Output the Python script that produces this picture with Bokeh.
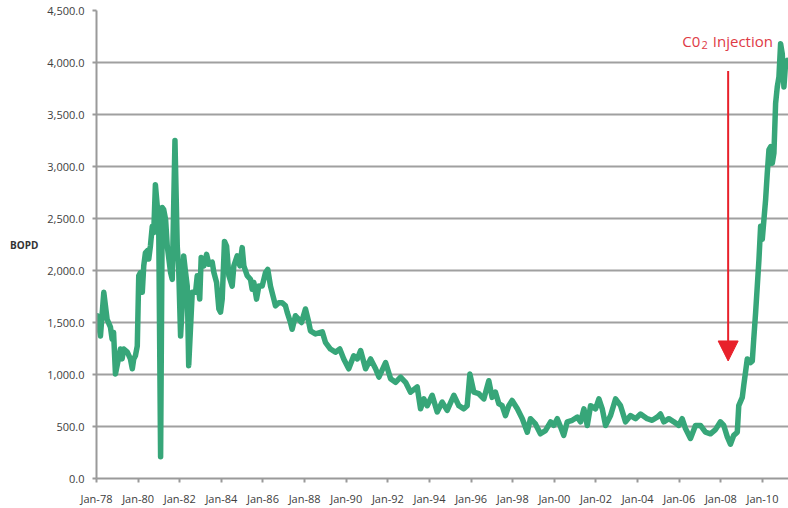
from bokeh.plotting import figure
from bokeh.models import (Range1d, FixedTicker, NumeralTickFormatter, Label,
                          Arrow, NormalHead, ColumnDataSource)
from bokeh.models.axes import Axis
from bokeh.embed import file_html
from bokeh.resources import INLINE

# ---- data ----
years = [
    1978.03, 1978.19, 1978.35, 1978.51, 1978.67, 1978.75, 1978.82, 1978.91, 1978.99,
    1979.15, 1979.23, 1979.31, 1979.48, 1979.63, 1979.72, 1979.79, 1979.87, 1979.96,
    1980.03, 1980.11, 1980.20, 1980.27, 1980.35, 1980.44, 1980.51, 1980.59, 1980.68,
    1980.75, 1980.83, 1980.92, 1980.99, 1981.08, 1981.16, 1981.23, 1981.32, 1981.40,
    1981.56, 1981.64, 1981.77, 1981.88, 1981.95, 1982.04, 1982.12, 1982.19, 1982.28,
    1982.36, 1982.43, 1982.60, 1982.76, 1982.84, 1982.96, 1983.03, 1983.16, 1983.29,
    1983.40, 1983.56, 1983.64, 1983.77, 1983.88, 1983.96, 1984.04, 1984.15, 1984.25,
    1984.36, 1984.52, 1984.60, 1984.76, 1984.89, 1985.00, 1985.08, 1985.24, 1985.40,
    1985.48, 1985.56, 1985.69, 1985.80, 1985.96, 1986.12, 1986.23, 1986.36, 1986.52,
    1986.60, 1986.76, 1986.92, 1987.08, 1987.16, 1987.32, 1987.40, 1987.56, 1987.72,
    1987.85, 1988.04, 1988.20, 1988.28, 1988.52, 1988.85, 1989.00, 1989.24, 1989.48,
    1989.69, 1989.88, 1990.12, 1990.36, 1990.53, 1990.69, 1990.93, 1991.17, 1991.41,
    1991.57, 1991.89, 1992.13, 1992.37, 1992.61, 1992.85, 1993.09, 1993.41, 1993.57,
    1993.73, 1993.89, 1994.13, 1994.37, 1994.61, 1994.85, 1995.17, 1995.41, 1995.65,
    1995.81, 1995.94, 1996.13, 1996.37, 1996.61, 1996.85, 1997.01, 1997.17, 1997.33,
    1997.49, 1997.65, 1997.81, 1997.97, 1998.22, 1998.46, 1998.70, 1998.85, 1999.09,
    1999.33, 1999.57, 1999.82, 1999.97, 2000.14, 2000.30, 2000.45, 2000.62, 2000.86,
    2001.10, 2001.26, 2001.42, 2001.58, 2001.74, 2001.98, 2002.14, 2002.30, 2002.46,
    2002.70, 2002.94, 2003.18, 2003.42, 2003.66, 2003.90, 2004.14, 2004.46, 2004.70,
    2004.94, 2005.10, 2005.26, 2005.50, 2005.74, 2005.98, 2006.14, 2006.30, 2006.54,
    2006.78, 2007.02, 2007.26, 2007.50, 2007.74, 2007.98, 2008.14, 2008.31, 2008.46,
    2008.62, 2008.79, 2008.86, 2009.03, 2009.10, 2009.27, 2009.43, 2009.51, 2009.58,
    2009.67, 2009.75, 2009.83, 2009.91, 2009.99, 2010.07, 2010.15, 2010.23, 2010.31,
    2010.39, 2010.47, 2010.55, 2010.63, 2010.71, 2010.79, 2010.87, 2010.95, 2011.03,
    2011.11, 2011.19, 2011.25,
]
bopd = [
    1565, 1370, 1790, 1530, 1455, 1340, 1405, 1005, 1085,
    1245, 1150, 1245, 1215, 1150, 1055, 1150, 1180, 1275,
    1950, 1980, 1790, 2045, 2170, 2190, 2110, 2235, 2425,
    2365, 2825, 2620, 2425, 210, 2605, 2585, 2490, 2235,
    1980, 1915, 3250, 2235, 2010, 1370, 1660, 2140, 1980,
    1850, 1085, 1790, 1790, 1950, 1725, 2125, 2045, 2155,
    2060, 2080, 1980, 1885, 1630, 1600, 1725, 2280, 2235,
    1950, 1850, 2045, 2140, 2045, 2220, 2045, 1950, 1915,
    1820, 1885, 1725, 1850, 1850, 1980, 2010, 1850, 1725,
    1660, 1690, 1690, 1660, 1600, 1500, 1435, 1565, 1530,
    1500, 1630, 1500, 1420, 1390, 1410, 1310, 1245, 1215,
    1245, 1150, 1055, 1180, 1150, 1230, 1055, 1150, 1055,
    975, 1115, 960, 925, 975, 925, 830, 880, 670,
    765, 700, 800, 640, 735, 655, 800, 700, 670,
    700, 1005, 830, 815, 765, 940, 780, 830, 720,
    700, 605, 700, 750, 670, 575, 445, 575, 525,
    430, 460, 545, 510, 575, 495, 415, 545, 560,
    590, 545, 670, 510, 700, 670, 765, 670, 510,
    605, 765, 700, 545, 605, 575, 620, 575, 560,
    590, 620, 545, 575, 545, 510, 575, 480, 385,
    510, 510, 445, 430, 470, 545, 510, 400, 330,
    415, 445, 700, 780, 895, 1150, 1115, 1130, 1340,
    1595, 1850, 2105, 2425, 2300, 2490, 2680, 2935, 3160,
    3190, 3030, 3130, 3605, 3765, 3860, 4180, 4085, 3765,
    3990, 4020, 3980,
]
x_ticks = [1978, 1980, 1982, 1984, 1986, 1988, 1990, 1992, 1994, 1996,
           1998, 2000, 2002, 2004, 2006, 2008, 2010]
x_tick_labels = ["Jan-78", "Jan-80", "Jan-82", "Jan-84", "Jan-86", "Jan-88",
                 "Jan-90", "Jan-92", "Jan-94", "Jan-96", "Jan-98", "Jan-00",
                 "Jan-02", "Jan-04", "Jan-06", "Jan-08", "Jan-10"]
y_ticks = [0, 500, 1000, 1500, 2000, 2500, 3000, 3500, 4000, 4500]
y_label = "BOPD"
annotation_parts = ["C0", "2", "Injection"]
arrow_year = 2008.35
arrow_from = 3918
arrow_to = 1130

src = ColumnDataSource(dict(x=years, y=bopd))

p = figure(width=788, height=508, output_backend="svg", toolbar_location=None,
           x_range=Range1d(1978, 2011.25), y_range=Range1d(0, 4500))
p.min_border = 0
p.min_border_left = 96
p.min_border_right = 0
p.min_border_top = 10
p.min_border_bottom = 28
p.outline_line_color = None
p.background_fill_color = "white"
p.border_fill_color = "white"

p.line("x", "y", source=src, line_color="#37a679", line_width=5.5,
       line_join="round", line_cap="round")

# axes
LABEL_FONT = "Open Sans"
for ax in (p.xaxis[0], p.yaxis[0]):
    ax.axis_line_color = "#9a9a9a"
    ax.axis_line_width = 2
    ax.major_tick_line_color = "#9a9a9a"
    ax.major_tick_line_width = 2
    ax.major_tick_in = 0
    ax.major_tick_out = 4
    ax.minor_tick_line_color = None
    ax.major_label_text_font = LABEL_FONT
    ax.major_label_text_font_size = "11px"
    ax.major_label_text_color = "#404040"
    ax.major_label_standoff = 8

p.xaxis.ticker = FixedTicker(ticks=x_ticks)
p.xaxis.major_label_overrides = {t: l for t, l in zip(x_ticks, x_tick_labels)}
p.yaxis.ticker = FixedTicker(ticks=y_ticks)
p.yaxis.formatter = NumeralTickFormatter(format="0,0.0")

p.xgrid.grid_line_color = None
p.ygrid.ticker = FixedTicker(ticks=y_ticks)
p.ygrid.grid_line_color = "#a0a0a0"
p.ygrid.grid_line_width = 2

# horizontal axis title
yax = p.yaxis[0]
yax.axis_label = y_label
yax.axis_label_text_font = LABEL_FONT
yax.axis_label_text_font_size = "10px"
yax.axis_label_text_font_style = "bold"
yax.axis_label_text_color = "#333333"
yax.axis_label_standoff = 6
if "axis_label_orientation" in Axis.properties():
    yax.axis_label_orientation = "horizontal"

# annotation
RED_TEXT = "#de3a45"
p.add_layout(Label(x=585.7, y=438, x_units="screen", y_units="screen",
                   text=annotation_parts[0], text_font=LABEL_FONT,
                   text_font_size="15px", text_color=RED_TEXT,
                   text_baseline="alphabetic"))
p.add_layout(Label(x=605, y=434, x_units="screen", y_units="screen",
                   text=annotation_parts[1], text_font=LABEL_FONT,
                   text_font_size="11px", text_color=RED_TEXT,
                   text_baseline="alphabetic"))
p.add_layout(Label(x=616.3, y=438, x_units="screen", y_units="screen",
                   text=annotation_parts[2], text_font=LABEL_FONT,
                   text_font_size="15px", text_color=RED_TEXT,
                   text_baseline="alphabetic"))

p.add_layout(Arrow(x_start=arrow_year, y_start=arrow_from,
                   x_end=arrow_year, y_end=arrow_to,
                   line_color="#e8212b", line_width=2,
                   end=NormalHead(size=20, fill_color="#e8212b",
                                  line_color="#e8212b")))

open("out.html", "w").write(file_html(p, INLINE))
